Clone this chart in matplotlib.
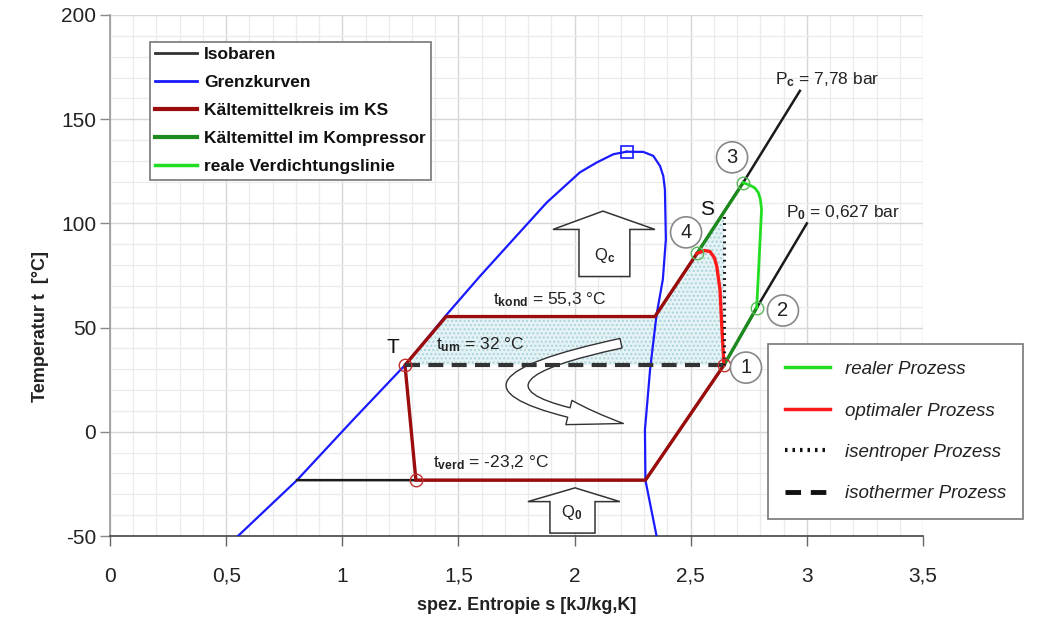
import matplotlib
matplotlib.use("Agg")
import matplotlib.pyplot as plt
from matplotlib import font_manager
from matplotlib.lines import Line2D
from matplotlib.patches import Polygon, FancyArrowPatch, ArrowStyle
from matplotlib.path import Path
from matplotlib.ticker import MultipleLocator, FuncFormatter

names = {f.name for f in font_manager.fontManager.ttflist}
NARROW = 'Liberation Sans Narrow' if 'Liberation Sans Narrow' in names else 'Liberation Sans'
plt.rcParams['font.family'] = ['Liberation Sans', 'DejaVu Sans']
plt.rcParams['mathtext.fontset'] = 'custom'
plt.rcParams['mathtext.rm'] = 'Liberation Sans'
plt.rcParams['mathtext.it'] = 'Liberation Sans:italic'
plt.rcParams['mathtext.bf'] = 'Liberation Sans:bold'
plt.rcParams['axes.unicode_minus'] = False

# ---------------- data ----------------
# saturation curves (Grenzkurven)
s_liq = [0.551, 0.805, 1.047, 1.270, 1.449, 1.593, 1.736, 1.880, 1.951, 2.023, 2.095, 2.167, 2.224]
t_liq = [-50.0, -23.2, 5.8, 32.0, 56.2, 74.7, 92.3, 110.0, 117.2, 124.5, 129.2, 133.2, 134.4]
s_vap = [2.224, 2.296, 2.339, 2.368, 2.382, 2.389, 2.393, 2.380, 2.353, 2.325, 2.303, 2.305, 2.353]
t_vap = [134.4, 134.3, 132.4, 127.5, 122.7, 116.3, 92.3, 73.1, 56.2, 29.8, 1.0, -23.2, -50.0]
s_crit, t_crit = 2.224, 134.5

# isobars
s_p0 = [0.805, 2.305, 2.643, 2.784, 3.000]
t_p0 = [-23.2, -23.2, 32.0, 59.5, 100.0]
s_pc = [2.346, 2.527, 2.726, 2.970]
t_pc = [55.3, 85.6, 119.6, 163.6]

# refrigerant cycle (Kältemittelkreis im KS)
s_cycle = [2.643, 2.305, 1.317, 1.270, 1.447, 2.346, 2.527]
t_cycle = [32.0, -23.2, -23.2, 32.0, 55.3, 55.3, 85.6]

# compressor segments
s_comp_low = [2.643, 2.784]
t_comp_low = [32.0, 59.5]
s_comp_high = [2.527, 2.726]
t_comp_high = [85.6, 119.6]

# real compression line
s_real = [2.784, 2.791, 2.798, 2.805, 2.800, 2.791, 2.776, 2.762, 2.726]
t_real = [59.5, 74.7, 90.7, 106.7, 111.5, 114.8, 117.0, 117.9, 119.6]

# optimal process
s_opt = [2.527, 2.560, 2.583, 2.602, 2.612, 2.626, 2.633, 2.643]
t_opt = [85.6, 87.0, 86.5, 83.5, 79.5, 68.3, 52.4, 32.0]

# isentropic / isothermal
s_isen = [2.643, 2.643]
t_isen = [32.0, 104.0]
s_isoth = [1.270, 2.643]
t_isoth = [32.0, 32.0]

# shaded work area
s_area = [1.270, 1.447, 2.346, 2.527, 2.643, 2.643]
t_area = [32.0, 55.3, 55.3, 85.6, 104.0, 32.0]

# state points
s_red_pts = [1.270, 1.317, 2.643]
t_red_pts = [32.0, -23.2, 32.0]
s_green_pts = [2.527, 2.726, 2.784]
t_green_pts = [85.6, 119.6, 59.5]

num_labels = ['1', '2', '3', '4']
num_s = [2.738, 2.897, 2.678, 2.480]
num_t = [30.8, 58.2, 131.7, 95.7]

C_BLUE = '#1a1aff'
C_DRED = '#9b0d0d'
C_DGREEN = '#1c8a1c'
C_LIME = '#22dd22'
C_RED = '#ff1a1a'
C_BLACK = '#1a1a1a'

# ---------------- figure ----------------
fig = plt.figure(figsize=(10.43, 6.21), dpi=100)
ax = fig.add_axes([110/1043, 1-536/621, (923-110)/1043, (536-15)/621])
ax.set_xlim(0, 3.5)
ax.set_ylim(-50, 200)

ax.xaxis.set_major_locator(MultipleLocator(0.5))
ax.xaxis.set_minor_locator(MultipleLocator(0.1))
ax.yaxis.set_major_locator(MultipleLocator(50))
ax.yaxis.set_minor_locator(MultipleLocator(10))
ax.grid(which='minor', color='#ebebeb', lw=0.9, zorder=0)
ax.grid(which='major', color='#d6d6d6', lw=1.0, zorder=0)
ax.set_axisbelow(True)

def fmt(v, pos):
    if abs(v - round(v)) < 1e-9:
        return f"{int(round(v))}"
    return f"{v:g}".replace('.', ',')
ax.xaxis.set_major_formatter(FuncFormatter(fmt))
ax.tick_params(which='minor', length=0)
ax.tick_params(axis='x', which='major', length=7, width=1, color='#666', pad=15,
               labelsize=15, labelcolor='#222')
ax.tick_params(axis='y', which='major', length=7, width=1, color='#888', pad=3,
               labelsize=15, labelcolor='#222')
for lab in ax.get_xticklabels() + ax.get_yticklabels():
    lab.set_fontfamily(NARROW)
for sp in ['top', 'right']:
    ax.spines[sp].set_visible(False)
ax.spines['left'].set_color('#999')
ax.spines['bottom'].set_color('#444')
ax.spines['left'].set_linewidth(1.2)
ax.spines['bottom'].set_linewidth(1.2)

# shaded area
ax.add_patch(Polygon(list(zip(s_area, t_area)), closed=True, facecolor='#e6f3f5',
                     edgecolor='#a9d3dc', hatch='....', lw=0, zorder=1))

# curves
ax.plot(s_liq, t_liq, color=C_BLUE, lw=1.6, zorder=3)
ax.plot(s_vap, t_vap, color=C_BLUE, lw=1.6, zorder=3)
ax.plot([s_crit], [t_crit], marker='s', ms=8, mfc='none', mec=C_BLUE, mew=1.2, zorder=4)
ax.plot(s_p0, t_p0, color=C_BLACK, lw=1.8, zorder=3)
ax.plot(s_pc, t_pc, color=C_BLACK, lw=1.8, zorder=3)
ax.plot(s_cycle, t_cycle, color=C_DRED, lw=2.4, zorder=4, solid_joinstyle='miter')
ax.plot(s_comp_low, t_comp_low, color=C_DGREEN, lw=2.4, zorder=4)
ax.plot(s_comp_high, t_comp_high, color=C_DGREEN, lw=2.4, zorder=4)
ax.plot(s_real, t_real, color=C_LIME, lw=2.0, zorder=4)
ax.plot(s_opt, t_opt, color=C_RED, lw=2.4, zorder=4)
ax.plot(s_isen, t_isen, color=C_BLACK, lw=2.2, ls=(0, (0.6, 1.4)), zorder=5)
ax.plot(s_isoth, t_isoth, color='#333', lw=3.0, ls=(0, (3.6, 2.0)), zorder=5)

ax.plot(s_red_pts, t_red_pts, ls='none', marker='o', ms=9, mfc='none', mec='#c03030', mew=1.0, zorder=6)
ax.plot(s_green_pts, t_green_pts, ls='none', marker='o', ms=9, mfc='none', mec='#5cb85c', mew=1.0, zorder=6)

for lab, s, t in zip(num_labels, num_s, num_t):
    ax.text(s, t, lab, ha='center', va='center', fontsize=14.5, color='#222',
            bbox=dict(boxstyle='circle,pad=0.3', fc='white', ec='#888', lw=1.2), zorder=7)

# annotations
ax.text(2.863, 169.2, r'P$_\mathbf{c}$ = 7,78 bar', fontsize=12.5, color='#222', va='center', ha='left')
ax.text(2.91, 105.3, r'P$_\mathbf{0}$ = 0,627 bar', fontsize=12.5, color='#222', va='center', ha='left')
ax.text(2.57, 106.7, 'S', fontsize=15, color='#111', va='center', ha='center')
ax.text(1.218, 40.4, 'T', fontsize=15, color='#111', va='center', ha='center')
ax.text(1.649, 63.5, r't$_\mathbf{kond}$ = 55,3 °C', fontsize=12.5, color='#222', va='center', ha='left')
ax.text(1.403, 41.8, r't$_\mathbf{um}$ = 32 °C', fontsize=12.5, color='#222', va='center', ha='left')
ax.text(1.39, -15.0, r't$_\mathbf{verd}$ = -23,2 °C', fontsize=12.5, color='#222', va='center', ha='left')

# Q_c block arrow
qc = [(2.019, 74.5), (2.019, 97.1), (1.907, 97.1), (2.122, 105.9), (2.346, 97.1), (2.238, 97.1), (2.238, 74.5)]
ax.add_patch(Polygon(qc, closed=True, fc='white', ec='#333', lw=1.1, zorder=3))
ax.text(2.131, 84.6, r'Q$_\mathbf{c}$', fontsize=12, ha='center', va='center', color='#222', zorder=4)
# Q_0 block arrow
q0 = [(1.894, -48.6), (1.894, -33.5), (1.799, -33.5), (2.002, -26.9), (2.195, -33.5), (2.088, -33.5), (2.088, -48.6)]
ax.add_patch(Polygon(q0, closed=True, fc='white', ec='#333', lw=1.1, zorder=3))
ax.text(1.989, -38.5, r'Q$_\mathbf{0}$', fontsize=12, ha='center', va='center', color='#222', zorder=4)

# curved arrow
cpath = Path([(2.20, 42.5), (1.30, 21.0), (2.21, 4.0)], [Path.MOVETO, Path.CURVE3, Path.CURVE3])
ax.add_patch(FancyArrowPatch(path=cpath, arrowstyle=ArrowStyle.Simple(head_length=4.0, head_width=1.8, tail_width=0.7),
                             mutation_scale=10, fc='white', ec='#333', lw=1.0, zorder=3))

# axis labels
fig.text(41/1043, 1-326/621, 'Temperatur t  [°C]', rotation=90, fontsize=13, fontweight='bold',
         ha='center', va='center', family=NARROW, color='#222')
fig.text(527/1043, 1-606/621, 'spez. Entropie s [kJ/kg,K]', fontsize=13, fontweight='bold',
         ha='center', va='center', family=NARROW, color='#222')

# legend 1
h1 = [Line2D([], [], color='#333', lw=2), Line2D([], [], color=C_BLUE, lw=2),
      Line2D([], [], color=C_DRED, lw=3), Line2D([], [], color=C_DGREEN, lw=3),
      Line2D([], [], color=C_LIME, lw=2.5)]
l1 = ['Isobaren', 'Grenzkurven', 'Kältemittelkreis im KS', 'Kältemittel im Kompressor', 'reale Verdichtungslinie']
leg1 = fig.legend(h1, l1, loc='upper left', bbox_to_anchor=(150/1043, 1-42/621), borderaxespad=0,
                  prop=dict(family=NARROW, weight='bold', size=12.5), fancybox=False, framealpha=1,
                  edgecolor='#777', handlelength=2.4, handletextpad=0.4, labelspacing=0.74,
                  borderpad=0.3)
leg1.get_frame().set_linewidth(1.2)
for t in leg1.get_texts():
    t.set_color('#111')

# legend 2
h2 = [Line2D([], [], color=C_LIME, lw=2.5), Line2D([], [], color=C_RED, lw=2.5),
      Line2D([], [], color='#111', lw=3, ls=(0, (0.6, 1.2))),
      Line2D([], [], color='#111', lw=3.5, ls=(0, (3.2, 2.0)))]
l2 = ['realer Prozess', 'optimaler Prozess', 'isentroper Prozess', 'isothermer Prozess']
leg2 = fig.legend(h2, l2, loc='upper left', bbox_to_anchor=(768/1043, 1-344/621), borderaxespad=0,
                  prop=dict(family=NARROW, style='italic', size=13.5), fancybox=False, framealpha=1,
                  edgecolor='#777', handlelength=2.4, handletextpad=0.8, labelspacing=1.3,
                  borderpad=0.9)
leg2.get_frame().set_linewidth(1.2)
for t in leg2.get_texts():
    t.set_color('#222')

fig.savefig('out.png', dpi=100)
